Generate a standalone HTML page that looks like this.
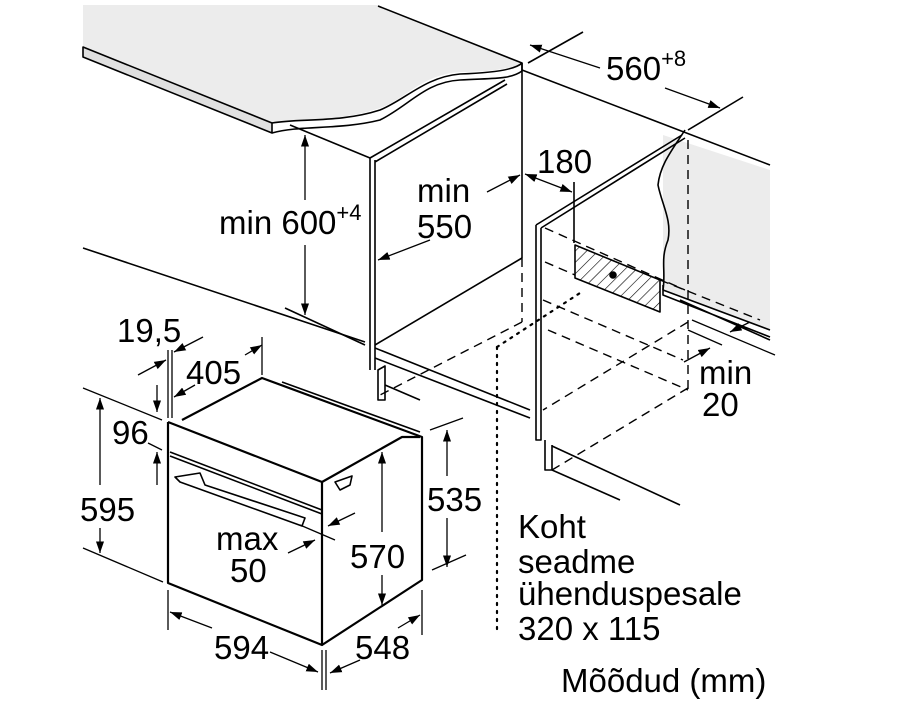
<!DOCTYPE html>
<html><head><meta charset="utf-8"><style>
html,body{margin:0;padding:0;background:#fff;}
svg{display:block;}
text{font-family:"Liberation Sans",sans-serif;font-size:33px;fill:#000;}
</style></head><body>
<svg width="906" height="711" viewBox="0 0 906 711" xmlns="http://www.w3.org/2000/svg">
<defs>
<marker id="a" viewBox="0 0 10 10" refX="10" refY="5" markerWidth="9" markerHeight="9" orient="auto-start-reverse"><path d="M0,1.5 L10,5 L0,8.5 z" fill="#000"/></marker>
<pattern id="h" width="8" height="8" patternUnits="userSpaceOnUse" patternTransform="rotate(45)"><line x1="0" y1="0" x2="0" y2="8" stroke="#000" stroke-width="1.2"/></pattern>
</defs>
<g fill="none" stroke="#000" stroke-width="1.6" stroke-linejoin="round">
<path d="M83,5 L378,5 L522,63 C510,70 480,72 460,72 C420,75 405,100 380,108 C340,122 300,118 280,122 L272,123 L83,47 Z" fill="#ececec" stroke="none"/>
<path d="M83,47 L272,123 L272,133 L83,57 Z" fill="#e0e0e0"/>
<path d="M378,6 L522,63 C515,70 490,73 460,74 C425,77 405,100 380,110 C340,123 300,118 272,123"/>
<path d="M272,133 C300,125 340,130 380,120 C410,105 425,82 460,80 C490,78 510,80 522,71 L522,63"/>
<line x1="522" y1="63" x2="522" y2="258"/>
<line x1="290" y1="125" x2="370" y2="158"/>
<path d="M370,158 L370,370 M375,160 L375,370 M370,158 L505,80 M375,162 L507,84"/>
<line x1="83" y1="248" x2="365" y2="342"/>
<line x1="285" y1="308" x2="365" y2="345"/>
<line x1="375" y1="345" x2="522" y2="258"/>
<line x1="375" y1="348" x2="530" y2="410"/>
<line x1="375" y1="358" x2="530" y2="418"/>
<path d="M378,370 L385,366 L385,400 L378,400 Z"/>
<line x1="385" y1="385" x2="420" y2="400"/>
<line x1="522" y1="70" x2="770" y2="165"/>
<line x1="528" y1="63" x2="583" y2="32"/>
<line x1="688" y1="130" x2="743" y2="97"/>
<path d="M663,135 L770,170 L770,330 L663,290 Z" fill="#ececec" stroke="none"/>
<path d="M685,130 C672,150 660,165 658,185 C662,205 672,220 668,240 C660,260 666,270 663,290"/>
<path d="M663,290 L770,330 M663,285 L663,295 L770,337 M680,300 L770,340"/>
<path d="M536,225 L536,440 L541,440 L541,228 M536,225 L682,135 M541,228 L685,138"/>
<path d="M545,440 L545,470 L552,470 L552,445"/>
<line x1="552" y1="446" x2="680" y2="505"/>
<line x1="552" y1="470" x2="620" y2="500"/>
<path d="M575,245 L660,280 L660,312 L575,278 Z" fill="url(#h)"/>
<circle cx="613" cy="275" r="3" fill="#000"/>
<line x1="574" y1="182" x2="574" y2="243"/>
<g stroke-dasharray="9,6" stroke-width="1.4">
<line x1="522" y1="258" x2="522" y2="322"/>
<line x1="688" y1="140" x2="688" y2="390"/>
<line x1="522" y1="322" x2="380" y2="395"/>
<line x1="548" y1="330" x2="688" y2="390"/>
<line x1="688" y1="322" x2="543" y2="410"/>
<line x1="688" y1="388" x2="552" y2="470"/>
<line x1="545" y1="228" x2="685" y2="290"/>
<line x1="545" y1="262" x2="575" y2="275"/>
<line x1="660" y1="280" x2="760" y2="320"/>
<line x1="543" y1="300" x2="683" y2="360"/>
</g>
<g stroke-dasharray="2,6" stroke-width="2.2" stroke-linecap="round">
<line x1="497" y1="347" x2="497" y2="635"/>
<line x1="497" y1="347" x2="580" y2="293"/>
</g>
<g stroke-width="2.2">
<path d="M168,422 L168,583 L322,645 L322,482 L168,422"/>
<path d="M182,420 L262,378 L422,437 L422,580 L322,645"/>
<path d="M322,482 L402,437 L420,437"/>
</g>
<line x1="170" y1="452" x2="322" y2="510"/>
<line x1="170" y1="456" x2="322" y2="514"/>
<path d="M175,477 L200,473 L205,485 L290,513 L305,518 L302,526 L180,482 Z"/>
<path d="M335,482 L352,476 L350,485 L340,490 Z"/>
<line x1="282" y1="382" x2="420" y2="432"/>
<g stroke-width="1.3">
<line x1="305" y1="135" x2="305" y2="200" marker-start="url(#a)"/>
<line x1="305" y1="245" x2="305" y2="315" marker-end="url(#a)"/>
<line x1="487" y1="192" x2="520" y2="175" marker-end="url(#a)"/>
<line x1="430" y1="240" x2="378" y2="260" marker-end="url(#a)"/>
<line x1="530" y1="45" x2="600" y2="68" marker-start="url(#a)"/>
<line x1="665" y1="88" x2="720" y2="108" marker-end="url(#a)"/>
<line x1="525" y1="174" x2="572" y2="192" marker-start="url(#a)" marker-end="url(#a)"/>
<line x1="692" y1="320" x2="775" y2="355"/>
<line x1="688" y1="330" x2="722" y2="345"/>
<line x1="750" y1="322" x2="730" y2="332" marker-end="url(#a)"/>
<line x1="684" y1="362" x2="710" y2="348" marker-end="url(#a)"/>
<line x1="83" y1="388" x2="162" y2="420"/>
<line x1="83" y1="548" x2="163" y2="582"/>
<line x1="100" y1="398" x2="100" y2="485" marker-start="url(#a)"/>
<line x1="100" y1="528" x2="100" y2="553" marker-end="url(#a)"/>
<line x1="148" y1="443" x2="162" y2="450"/>
<line x1="157" y1="385" x2="157" y2="412" marker-end="url(#a)"/>
<line x1="157" y1="485" x2="157" y2="452" marker-end="url(#a)"/>
<line x1="168" y1="350" x2="168" y2="418"/>
<line x1="172" y1="350" x2="172" y2="418"/>
<line x1="138" y1="375" x2="166" y2="360" marker-end="url(#a)"/>
<line x1="203" y1="337" x2="174" y2="352" marker-end="url(#a)"/>
<line x1="195" y1="385" x2="174" y2="397" marker-end="url(#a)"/>
<line x1="245" y1="355" x2="262" y2="345" marker-end="url(#a)"/>
<line x1="262" y1="337" x2="262" y2="375"/>
<line x1="168" y1="590" x2="168" y2="630"/>
<line x1="322" y1="650" x2="322" y2="690"/>
<line x1="326" y1="650" x2="326" y2="690"/>
<line x1="422" y1="590" x2="422" y2="635"/>
<line x1="170" y1="612" x2="212" y2="628" marker-start="url(#a)"/>
<line x1="270" y1="652" x2="318" y2="672" marker-end="url(#a)"/>
<line x1="360" y1="660" x2="330" y2="673" marker-end="url(#a)"/>
<line x1="398" y1="628" x2="420" y2="615" marker-end="url(#a)"/>
<line x1="382" y1="452" x2="382" y2="532" marker-start="url(#a)"/>
<line x1="382" y1="575" x2="382" y2="605" marker-end="url(#a)"/>
<line x1="430" y1="430" x2="463" y2="418"/>
<line x1="432" y1="570" x2="466" y2="555"/>
<line x1="447" y1="430" x2="447" y2="476" marker-start="url(#a)"/>
<line x1="447" y1="518" x2="447" y2="567" marker-end="url(#a)"/>
<line x1="300" y1="525" x2="335" y2="540"/>
<line x1="355" y1="513" x2="328" y2="526" marker-end="url(#a)"/>
<line x1="288" y1="553" x2="315" y2="540" marker-end="url(#a)"/>
</g>
</g>
<text x="219" y="234">min 600<tspan font-size="22" dy="-14">+4</tspan></text>
<text x="417" y="202">min</text>
<text x="417" y="238">550</text>
<text x="606" y="80">560<tspan font-size="22" dy="-14">+8</tspan></text>
<text x="537" y="173">180</text>
<text x="699" y="384">min</text>
<text x="702" y="416">20</text>
<text x="117" y="342">19,5</text>
<text x="186" y="384">405</text>
<text x="112" y="444">96</text>
<text x="80" y="521">595</text>
<text x="216" y="550">max</text>
<text x="230" y="582">50</text>
<text x="350" y="568">570</text>
<text x="427" y="511">535</text>
<text x="214" y="659">594</text>
<text x="355" y="659">548</text>
<text x="518" y="538">Koht</text>
<text x="518" y="573">seadme</text>
<text x="518" y="605">ühenduspesale</text>
<text x="518" y="640">320 x 115</text>
<text x="561" y="692">Mõõdud (mm)</text>
</svg>
</body></html>
